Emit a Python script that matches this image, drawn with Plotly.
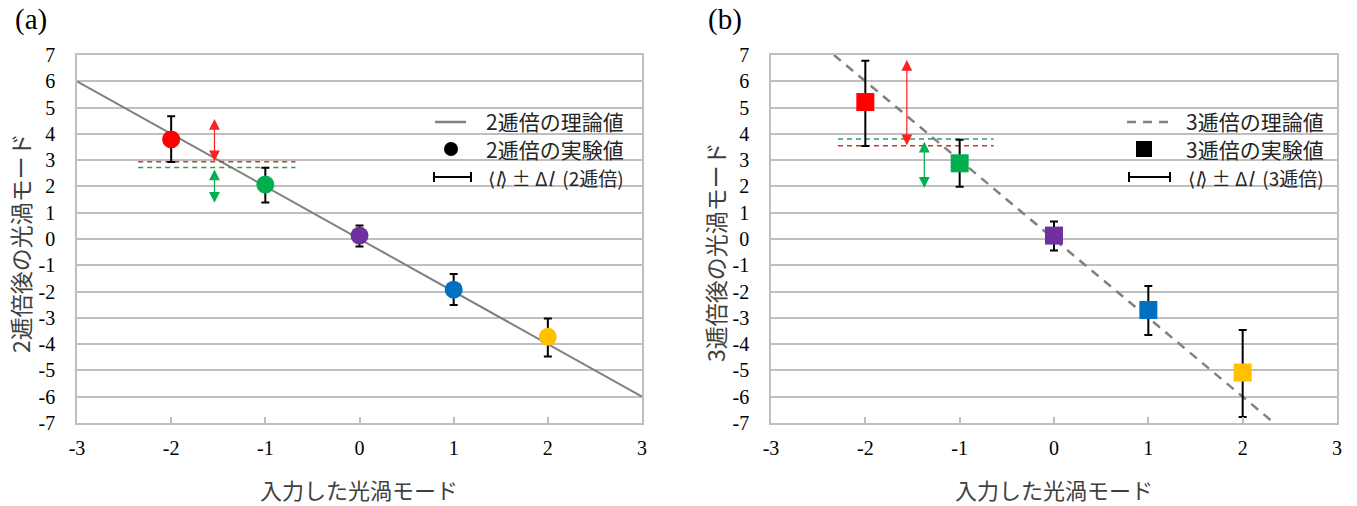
import plotly.graph_objects as go

W, H = 1357, 506

# ---------------- data ----------------
modes = [-2, -1, 0, 1, 2]
colors = ["#FF0000", "#00B050", "#7030A0", "#0070C0", "#FFC000"]

out2 = [3.79, 2.07, 0.13, -1.93, -3.72]
err2_plus = [0.88, 0.64, 0.38, 0.60, 0.70]
err2_minus = [0.86, 0.68, 0.42, 0.58, 0.75]

out3 = [5.21, 2.88, 0.13, -2.70, -5.08]
err3_plus = [1.57, 0.90, 0.54, 0.91, 1.62]
err3_minus = [1.67, 0.89, 0.57, 0.95, 1.69]

theory2_x = [-3, 3]
theory2_y = [6, -6]
theory3_x = [-7 / 3, 7 / 3]
theory3_y = [7, -7]

# reference dashed levels (x-range, red level, green level)
ref2_x = [-2.35, -0.68]
ref2_red = 2.94
ref2_green = 2.72
ref3_x = [-2.29, -0.64]
ref3_red = 3.55
ref3_green = 3.80

# arrows: x, y_top, y_bottom
arrow2_red = [-1.54, 4.62, 2.96]
arrow2_green = [-1.54, 2.70, 1.38]
arrow3_red = [-1.56, 6.87, 3.56]
arrow3_green = [-1.375, 3.76, 1.95]

x_ticks = [-3, -2, -1, 0, 1, 2, 3]
x_ticktext = ["-3", "-2", "-1", "0", "1", "2", "3"]
y_ticks = list(range(-7, 8))
y_ticktext = [str(v) for v in y_ticks]

xlabel = "入力した光渦モード"
ylabel2 = "2逓倍後の光渦モード"
ylabel3 = "3逓倍後の光渦モード"
leg2 = ["2逓倍の理論値", "2逓倍の実験値", "⟨<i>l</i>⟩ ± Δ<i>l</i>\u2002(2逓倍)"]
leg3 = ["3逓倍の理論値", "3逓倍の実験値", "⟨<i>l</i>⟩ ± Δ<i>l</i>\u2002(3逓倍)"]

# ---------------- style ----------------
JP = "Noto Sans CJK JP"
SERIF = "Liberation Serif"
GRID = "#BFBFBF"


def PX(px):
    return px / W


def PY(py):
    return 1 - py / H


fig = go.Figure()

# panel (a)
fig.add_trace(go.Scatter(x=theory2_x, y=theory2_y, mode="lines",
                         line=dict(color="#808080", width=2), xaxis="x", yaxis="y",
                         showlegend=False))
fig.add_trace(go.Scatter(x=ref2_x, y=[ref2_red] * 2, mode="lines",
                         line=dict(color="#D03A3A", width=1.5, dash="5px,4px"),
                         xaxis="x", yaxis="y", showlegend=False))
fig.add_trace(go.Scatter(x=ref2_x, y=[ref2_green] * 2, mode="lines",
                         line=dict(color="#2E9E5A", width=1.5, dash="5px,4px"),
                         xaxis="x", yaxis="y", showlegend=False))
fig.add_trace(go.Scatter(x=modes, y=out2, mode="markers",
                         marker=dict(color=colors, size=18, symbol="circle"),
                         error_y=dict(type="data", symmetric=False, array=err2_plus,
                                      arrayminus=err2_minus, color="black", thickness=2, width=4),
                         xaxis="x", yaxis="y", showlegend=False))

# panel (b)
fig.add_trace(go.Scatter(x=theory3_x, y=theory3_y, mode="lines",
                         line=dict(color="#808080", width=2.5, dash="9px,7px"), xaxis="x2", yaxis="y2",
                         showlegend=False))
fig.add_trace(go.Scatter(x=ref3_x, y=[ref3_red] * 2, mode="lines",
                         line=dict(color="#C0392B", width=1.5, dash="5px,4px"),
                         xaxis="x2", yaxis="y2", showlegend=False))
fig.add_trace(go.Scatter(x=ref3_x, y=[ref3_green] * 2, mode="lines",
                         line=dict(color="#2E9E5A", width=1.5, dash="5px,4px"),
                         xaxis="x2", yaxis="y2", showlegend=False))
fig.add_trace(go.Scatter(x=modes, y=out3, mode="markers",
                         marker=dict(color=colors, size=18, symbol="square"),
                         error_y=dict(type="data", symmetric=False, array=err3_plus,
                                      arrayminus=err3_minus, color="black", thickness=2, width=4),
                         xaxis="x2", yaxis="y2", showlegend=False))

annotations = []


def arrow(a, xa, ya, color):
    x, yt, yb = a
    annotations.append(dict(x=x, y=yb, ax=x, ay=yt, xref=xa, yref=ya, axref=xa, ayref=ya,
                            text="", showarrow=True, arrowhead=2, startarrowhead=2,
                            arrowside="end+start", arrowsize=1.8, startarrowsize=1.8,
                            arrowwidth=1.2, arrowcolor=color, standoff=0, startstandoff=0))


arrow(arrow2_red, "x", "y", "#FF2020")
arrow(arrow2_green, "x", "y", "#00B050")
arrow(arrow3_red, "x2", "y2", "#FF2020")
arrow(arrow3_green, "x2", "y2", "#00B050")


def label(px, py, text, font, xanchor="center", angle=0):
    annotations.append(dict(x=PX(px), y=PY(py), xref="paper", yref="paper", text=text,
                            xanchor=xanchor, yanchor="middle", textangle=angle,
                            showarrow=False, font=font))


# panel labels
label(31, 19, "(a)", dict(family=SERIF, size=29, color="black"))
label(725, 19, "(b)", dict(family=SERIF, size=29, color="black"))
# axis titles
for cx in [359, 1054]:
    label(cx, 489, xlabel, dict(family=JP, size=22, color="#404040"))
label(20, 243, ylabel2, dict(family=JP, size=23, color="#404040"), angle=-90)
label(715, 252, ylabel3, dict(family=JP, size=23, color="#404040"), angle=-90)

# legends (text)
rows_y = [121, 149, 177]
rows_size = [21, 21, 19]
for right, texts in [(626, leg2), (1326, leg3)]:
    for ry, t, fs in zip(rows_y, texts, rows_size):
        label(right, ry, t, dict(family=JP, size=fs, color="#262626"), xanchor="right")

shapes = []
# legend (a) symbols
shapes.append(dict(type="line", xref="paper", yref="paper", x0=PX(435), x1=PX(466),
                   y0=PY(122), y1=PY(122), line=dict(color="#808080", width=2.5)))
shapes.append(dict(type="circle", xref="paper", yref="paper", x0=PX(444), x1=PX(458),
                   y0=PY(156), y1=PY(142), fillcolor="black", line=dict(color="black", width=0)))
# legend (b) symbols
shapes.append(dict(type="line", xref="paper", yref="paper", x0=PX(1127), x1=PX(1168),
                   y0=PY(122), y1=PY(122), line=dict(color="#808080", width=2.5, dash="9px,7px")))
shapes.append(dict(type="rect", xref="paper", yref="paper", x0=PX(1136), x1=PX(1152),
                   y0=PY(157), y1=PY(141), fillcolor="black", line=dict(color="black", width=0)))
# error-bar legend symbols
for x0, x1 in [(434, 471), (1129, 1170)]:
    yy = 177
    shapes.append(dict(type="line", xref="paper", yref="paper", x0=PX(x0), x1=PX(x1),
                       y0=PY(yy), y1=PY(yy), line=dict(color="black", width=2)))
    for xe in (x0, x1):
        shapes.append(dict(type="line", xref="paper", yref="paper", x0=PX(xe), x1=PX(xe),
                           y0=PY(yy - 5), y1=PY(yy + 5), line=dict(color="black", width=2)))

xcommon = dict(range=[-3, 3], tickvals=x_ticks, ticktext=x_ticktext, showgrid=False,
               zeroline=False, showline=True, linecolor=GRID, linewidth=1.7, mirror=True,
               ticks="inside", ticklen=6, tickcolor=GRID, tickwidth=1.5, automargin=False,
               tickfont=dict(family=SERIF, size=20, color="black"), ticklabelstandoff=6)
ycommon = dict(range=[-7, 7], tickvals=y_ticks, ticktext=y_ticktext, showgrid=True,
               gridcolor=GRID, gridwidth=1.7, zeroline=False, showline=True, linecolor=GRID,
               linewidth=1.7, mirror=True, ticks="", automargin=False,
               tickfont=dict(family=SERIF, size=20, color="black"), ticklabelstandoff=16)

fig.update_layout(
    width=W, height=H, margin=dict(l=0, r=0, t=0, b=0, pad=0), autosize=False,
    paper_bgcolor="white", plot_bgcolor="white", showlegend=False,
    xaxis=dict(domain=[PX(77), PX(642)], anchor="y", **xcommon),
    yaxis=dict(domain=[PY(423), PY(55)], anchor="x", **ycommon),
    xaxis2=dict(domain=[PX(771), PX(1337)], anchor="y2", **xcommon),
    yaxis2=dict(domain=[PY(423), PY(55)], anchor="x2", **ycommon),
    annotations=annotations, shapes=shapes,
)

# remove the default 8px page margin so the 1357x506 figure fills the window exactly
fig.write_html("out.html", config={"displayModeBar": False},
               post_script="document.body.style.margin='0';document.body.style.overflow='hidden';")
